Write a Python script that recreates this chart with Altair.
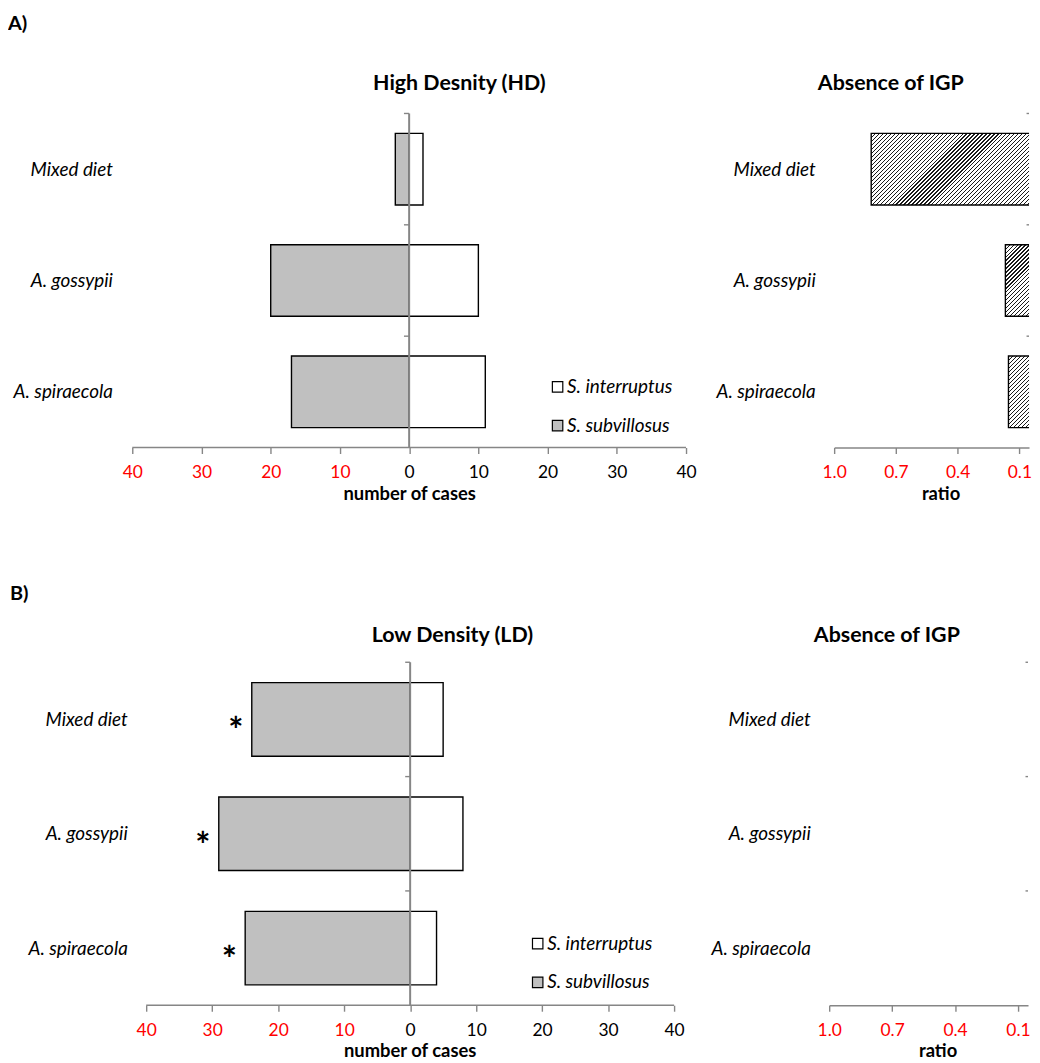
import json
import altair as alt
import pandas as pd

# ---------------- data ----------------
categories = ["Mixed diet", "A. gossypii", "A. spiraecola"]
species = ["S. interruptus", "S. subvillosus"]

hd_interruptus = [2, 10, 11]
hd_subvillosus = [2, 20, 17]
ld_interruptus = [5, 8, 4]
ld_subvillosus = [24, 29, 25]
ld_significance = ["*", "*", "*"]
hd_absence_ratio = [0.82, 0.168, 0.153]
ld_absence_ratio = []  # no bars drawn in panel B

count_ticks = [-40, -30, -20, -10, 0, 10, 20, 30, 40]
ratio_ticks = [1.0, 0.7, 0.4, 0.1]
boundaries = [0, 1, 2]

panel_titles = ["High Desnity (HD)", "Absence of IGP", "Low Density (LD)", "Absence of IGP"]
row_labels = ["A)", "B)"]

# ---------------- styling ----------------
FONT = "Lato"
AXIS_GREY = "#868686"
RED = "#ff0000"
GREY_FILL = "#c0c0c0"
BAR_FRAC = 0.643


def cat_axis(ext, pad):
    return alt.Axis(
        values=[0.5, 1.5, 2.5],
        labelExpr=json.dumps(categories) + "[floor(datum.value)]",
        title=None, domain=False, ticks=False, grid=False,
        labelPadding=pad, labelFont=FONT, labelFontSize=19,
        labelFontStyle="italic", labelColor="black",
        labelAlign="right", labelBaseline="middle",
        minExtent=ext, maxExtent=ext,
    )


def bottom_axis(values, title, label_color, label_expr=None, fmt=None,
                domain=True, title_x=None, title_pad=5):
    kw = dict(
        values=values, title=title, grid=False, domain=domain,
        domainColor=AXIS_GREY, domainWidth=1.6,
        tickColor=AXIS_GREY, tickWidth=1.4, tickSize=6,
        labelFont=FONT, labelFontSize=17.5, labelColor=label_color,
        labelPadding=10.5, labelFlush=False, labelOverlap=False,
        titleFont=FONT, titleFontSize=18.5, titleFontWeight="bold",
        titleColor="black", titlePadding=title_pad, titleBaseline="top",
        minExtent=32, maxExtent=32,
    )
    if label_expr:
        kw["labelExpr"] = label_expr
    if fmt:
        kw["format"] = fmt
    if title_x is not None:
        kw["titleX"] = title_x
        kw["titleAlign"] = "center"
    return alt.Axis(**kw)


def panel_title(text, dx, offset):
    return alt.Title(text, font=FONT, fontSize=21.5, fontWeight="bold", color="black",
                     anchor="middle", frame="group", dx=dx, baseline="top",
                     offset=offset)


def hatch_fill(w, h, period=4.0, ink=0.3):
    # diagonal (45 degree) hatching built from a striped linear gradient
    total = w + h
    n = total / period
    denom = w * w + h * h
    stops = []
    k = 0
    while k < n:
        a = k / n
        b = min((k + ink) / n, 1.0)
        c = min((k + 1) / n, 1.0)
        stops += [
            {"offset": round(a, 6), "color": "#1a1a1a"},
            {"offset": round(b, 6), "color": "#1a1a1a"},
            {"offset": round(b, 6), "color": "white"},
            {"offset": round(c, 6), "color": "white"},
        ]
        k += 1
    return {"gradient": "linear", "x1": 0, "y1": 0,
            "x2": total * w / denom, "y2": total * h / denom, "stops": stops}


def left_panel(inter, subv, stars, x_start, width, height, yext, ylab_pad,
               leg_x, leg_y, row_pad, title, title_dx, title_offset, title_x=None):
    rows = []
    for i, c in enumerate(categories):
        for sp, vals, sign in ((species[0], inter, 1), (species[1], subv, -1)):
            rows.append({"category": c, "species": sp, "value": sign * vals[i],
                         "y0": i + 0.5 - BAR_FRAC / 2, "y1": i + 0.5 + BAR_FRAC / 2})
    df = pd.DataFrame(rows)
    xs = alt.Scale(domain=[x_start, count_ticks[-1]], nice=False, zero=False)
    ys = alt.Scale(domain=[0, 3], reverse=True, nice=False, zero=False)
    xaxis = bottom_axis(count_ticks, "number of cases",
                        {"condition": {"test": "datum.value < 0", "value": RED}, "value": "black"},
                        label_expr="'' + abs(datum.value)", domain=False, title_x=title_x)
    yaxis = cat_axis(yext, ylab_pad)

    bars = alt.Chart(df).mark_rect(stroke="black", strokeWidth=1.4).encode(
        x=alt.X("value:Q", scale=xs, axis=xaxis),
        x2=alt.datum(0),
        y=alt.Y("y0:Q", scale=ys, axis=yaxis),
        y2="y1:Q",
        fill=alt.Fill("species:N",
                      scale=alt.Scale(domain=species, range=["white", GREY_FILL]),
                      legend=alt.Legend(orient="none", legendX=leg_x, legendY=leg_y,
                                        title=None, symbolType="square", symbolSize=110,
                                        symbolStrokeColor="black", symbolStrokeWidth=1.2,
                                        labelFont=FONT, labelFontSize=19,
                                        labelFontStyle="italic", labelColor="black",
                                        rowPadding=row_pad, labelOffset=0,
                                        direction="vertical")),
    )
    # x axis line spanning exactly the tick range
    axis_line = alt.Chart(pd.DataFrame({"y0": [3]})).mark_rule(
        color=AXIS_GREY, strokeWidth=1.6).encode(
        x=alt.XDatum(count_ticks[0], scale=xs, axis=xaxis), x2=alt.datum(count_ticks[-1]),
        y=alt.Y("y0:Q", scale=ys, axis=yaxis))
    center = alt.Chart(pd.DataFrame({"y0": [0], "y1": [3]})).mark_rule(
        color=AXIS_GREY, strokeWidth=2).encode(
        x=alt.XDatum(0, scale=xs, axis=xaxis),
        y=alt.Y("y0:Q", scale=ys, axis=yaxis), y2="y1:Q")
    ticks = alt.Chart(pd.DataFrame({"y0": boundaries})).mark_rule(
        color=AXIS_GREY, strokeWidth=1.4).encode(
        x=alt.XDatum(-0.75, scale=xs, axis=xaxis), x2=alt.datum(0),
        y=alt.Y("y0:Q", scale=ys, axis=yaxis))
    layers = [bars, axis_line, center, ticks]
    if stars:
        sdf = pd.DataFrame({"value": [-v for v in subv], "mark": stars,
                            "y0": [i + 0.5 for i in range(len(categories))]})
        star_layer = alt.Chart(sdf).mark_text(
            font=FONT, fontSize=36, fontWeight="bold", color="black",
            align="center", baseline="middle", dx=-16, dy=13).encode(
            x=alt.X("value:Q", scale=xs, axis=xaxis),
            y=alt.Y("y0:Q", scale=ys, axis=yaxis),
            text="mark:N")
        layers.append(star_layer)
    return alt.layer(*layers).properties(
        width=width, height=height, title=panel_title(title, title_dx, title_offset))


def right_panel(ratios, width, px_per_unit, height, yext, title, title_dx, title_offset,
                title_x):
    ratio_end = 1 - width / px_per_unit     # the axis is cut before reaching 0
    xs = alt.Scale(domain=[1, ratio_end], nice=False, zero=False)
    ys = alt.Scale(domain=[0, 3], reverse=True, nice=False, zero=False)
    bar_end = ratio_end - 0.9 / px_per_unit   # bars continue past the cut edge
    bar_h = BAR_FRAC * height / 3
    xaxis = bottom_axis(ratio_ticks, "ratio", RED, fmt=".1f", title_x=title_x)
    yaxis = cat_axis(yext, 19)
    ticks = alt.Chart(pd.DataFrame({"y0": boundaries})).mark_rule(
        color=AXIS_GREY, strokeWidth=1.4).encode(
        x=alt.XDatum(ratio_end + 0.012, scale=xs, axis=xaxis), x2=alt.datum(ratio_end),
        y=alt.Y("y0:Q", scale=ys, axis=yaxis))
    layers = [ticks]
    for i, r in enumerate(ratios):
        bdf = pd.DataFrame({"ratio": [r], "y0": [i + 0.5 - BAR_FRAC / 2],
                            "y1": [i + 0.5 + BAR_FRAC / 2]})
        w = (r - bar_end) * px_per_unit
        layers.append(alt.Chart(bdf).mark_rect(
            fill=hatch_fill(w, bar_h), stroke="black", strokeWidth=1.4, clip=True).encode(
            x=alt.X("ratio:Q", scale=xs, axis=xaxis), x2=alt.datum(bar_end),
            y=alt.Y("y0:Q", scale=ys, axis=yaxis), y2="y1:Q"))
    return alt.layer(*layers).properties(
        width=width, height=height, title=panel_title(title, title_dx, title_offset))


def row_title(text, offset, dx=0):
    return alt.Title(text, font=FONT, fontSize=20, fontWeight="bold", color="black",
                     anchor="start", baseline="top", offset=offset, dx=dx)


# B panel: the plot frame starts left of its -40 tick (its axis begins further right)
B_START = -40 - 14 / 6.6375

leftA = left_panel(hd_interruptus, hd_subvillosus, None, -40, 557, 336, 125, 20,
                   418.3, 265.5, 19, panel_titles[0], 50.5, 18)
rightA = right_panel(hd_absence_ratio, 196, 207, 336, 120, panel_titles[1], -41, 18, 107)
leftB = left_panel(ld_interruptus, ld_subvillosus, ld_significance, B_START, 545, 345, 125, 5,
                   398.3, 273.5, 19, panel_titles[2], 49.5, 15, title_x=279)
rightB = right_panel(ld_absence_ratio, 200, 211, 345, 120, panel_titles[3], -42, 15, 109)

rowA = alt.hconcat(leftA, rightA, spacing=18, title=row_title(row_labels[0], 39)
                   ).resolve_scale(fill="independent")
rowB = alt.hconcat(leftB, rightB, spacing=25, title=row_title(row_labels[1], 21.3, dx=2)
                   ).resolve_scale(fill="independent")

chart = alt.concat(rowA, rowB, columns=1, align="none", spacing=81).resolve_scale(
    fill="independent").properties(
    padding={"left": 0, "top": 3, "right": 0, "bottom": 0}
).configure(font=FONT).configure_view(stroke=None)

chart.save("out.html", embed_options={"renderer": "svg", "actions": False})
